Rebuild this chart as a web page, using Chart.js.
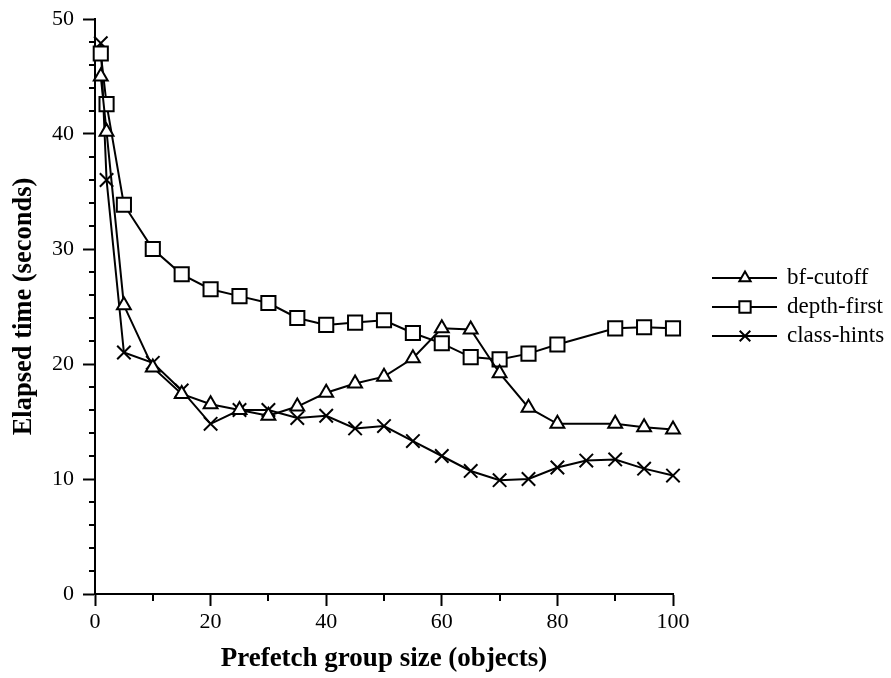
<!DOCTYPE html>
<html>
<head>
<meta charset="utf-8">
<script src="https://cdn.jsdelivr.net/npm/chart.js@4.4.1/dist/chart.umd.min.js"></script>
<style>
  html, body { margin: 0; padding: 0; background: #fff; }
  #wrap { width: 891px; height: 678px; position: relative; }
</style>
</head>
<body>
<div id="wrap"><canvas id="c" width="891" height="678"></canvas></div>
<script>
// ---- data ----
const seriesNames = ['bf-cutoff', 'depth-first', 'class-hints'];

const bfCutoffX = [1, 2, 5, 10, 15, 20, 25, 30, 35, 40, 45, 50, 55, 60, 65, 70, 75, 80, 90, 95, 100];
const bfCutoffY = [45.0, 40.2, 25.1, 19.7, 17.4, 16.5, 16.0, 15.5, 16.3, 17.5, 18.3, 18.9, 20.5, 23.1, 23.0, 19.2, 16.2, 14.8, 14.8, 14.5, 14.3];

const depthFirstX = [1, 2, 5, 10, 15, 20, 25, 30, 35, 40, 45, 50, 55, 60, 65, 70, 75, 80, 90, 95, 100];
const depthFirstY = [47.0, 42.6, 33.85, 30.0, 27.8, 26.5, 25.9, 25.3, 24.0, 23.4, 23.6, 23.8, 22.7, 21.8, 20.6, 20.4, 20.9, 21.7, 23.1, 23.2, 23.1];

const classHintsX = [1, 2, 5, 10, 15, 20, 25, 30, 35, 40, 45, 50, 55, 60, 65, 70, 75, 80, 85, 90, 95, 100];
const classHintsY = [47.9, 36.0, 21.0, 20.1, 17.7, 14.8, 16.0, 16.0, 15.3, 15.5, 14.4, 14.6, 13.3, 12.0, 10.7, 9.9, 10.0, 11.0, 11.6, 11.7, 10.9, 10.3];

const xTickValues = [0, 20, 40, 60, 80, 100];
const yTickValues = [0, 10, 20, 30, 40, 50];
const xMinorTickValues = [10, 30, 50, 70, 90];
const yMinorTickValues = [2, 4, 6, 8, 12, 14, 16, 18, 22, 24, 26, 28, 32, 34, 36, 38, 42, 44, 46, 48];
const xAxisTitle = 'Prefetch group size (objects)';
const yAxisTitle = 'Elapsed time (seconds)';

// ---- build ----
function pts(xs, ys) { return xs.map((x, i) => ({ x: x, y: ys[i] })); }

const FONT = "'Liberation Serif', 'Times New Roman', serif";

const common = {
  borderColor: '#000',
  borderWidth: 2,
  pointBackgroundColor: '#fff',
  pointBorderColor: '#000',
  pointBorderWidth: 2,
  tension: 0,
  fill: false,
  clip: false
};

const datasets = [
  Object.assign({ label: seriesNames[0], data: pts(bfCutoffX, bfCutoffY), pointStyle: 'triangle', pointRadius: 8, legendRadius: 6.5 }, common),
  Object.assign({ label: seriesNames[1], data: pts(depthFirstX, depthFirstY), pointStyle: 'rect', pointRadius: 10, legendRadius: 8 }, common),
  Object.assign({ label: seriesNames[2], data: pts(classHintsX, classHintsY), pointStyle: 'crossRot', pointRadius: 9.5, legendRadius: 7.5 }, common)
];

// minor ticks plugin
const minorTicks = {
  id: 'minorTicks',
  afterDraw(chart) {
    const ctx = chart.ctx;
    const xs = chart.scales.x, ys = chart.scales.y;
    ctx.save();
    ctx.strokeStyle = '#000';
    ctx.lineWidth = 2;
    ctx.beginPath();
    xMinorTickValues.forEach(v => {
      const px = Math.round(xs.getPixelForValue(v));
      ctx.moveTo(px, ys.bottom);
      ctx.lineTo(px, ys.bottom + 7);
    });
    yMinorTickValues.forEach(v => {
      const py = Math.round(ys.getPixelForValue(v));
      ctx.moveTo(xs.left, py);
      ctx.lineTo(xs.left - 6, py);
    });
    ctx.stroke();
    ctx.restore();
  }
};

// custom legend plugin (line with marker in middle)
const lineLegend = {
  id: 'lineLegend',
  afterDraw(chart) {
    const ctx = chart.ctx;
    const rows = [278, 307, 336];
    ctx.save();
    chart.data.datasets.forEach((ds, i) => {
      const y = rows[i];
      ctx.strokeStyle = '#000';
      ctx.lineWidth = 2;
      ctx.beginPath();
      ctx.moveTo(712, y);
      ctx.lineTo(777, y);
      ctx.stroke();
      ctx.fillStyle = '#fff';
      ctx.strokeStyle = '#000';
      ctx.lineWidth = 2;
      Chart.helpers.drawPoint(ctx, { pointStyle: ds.pointStyle, radius: ds.legendRadius, borderWidth: 2, rotation: 0 }, 745, y);
      ctx.fillStyle = '#000';
      ctx.font = "23px " + FONT;
      ctx.textBaseline = 'middle';
      ctx.textAlign = 'left';
      ctx.fillText(ds.label, 787, y);
    });
    ctx.restore();
  }
};

new Chart(document.getElementById('c'), {
  type: 'line',
  data: { datasets: datasets },
  plugins: [minorTicks, lineLegend],
  options: {
    responsive: false,
    animation: false,
    devicePixelRatio: 1,
    layout: { padding: { left: 0, right: 218, top: 19, bottom: 0 } },
    plugins: { legend: { display: false }, tooltip: { enabled: false } },
    scales: {
      x: {
        type: 'linear',
        min: 0, max: 100,
        afterBuildTicks(s) { s.ticks = xTickValues.map(v => ({ value: v })); },
        afterFit(s) { s.height = 84; },
        border: { display: true, color: '#000', width: 2 },
        grid: { display: true, drawOnChartArea: false, drawTicks: true, tickLength: 12, tickWidth: 2, tickColor: '#000' },
        ticks: { color: '#000', font: { family: FONT, size: 22 }, padding: 3, maxRotation: 0 },
        title: { display: true, text: xAxisTitle, color: '#000', font: { family: FONT, size: 27, weight: 'bold' }, padding: { top: 2, bottom: 3 } }
      },
      y: {
        type: 'linear',
        min: 0, max: 50,
        afterBuildTicks(s) { s.ticks = yTickValues.map(v => ({ value: v })); },
        afterFit(s) { s.width = 95; s.paddingTop = 0; },
        border: { display: true, color: '#000', width: 2 },
        grid: { display: true, drawOnChartArea: false, drawTicks: true, tickLength: 12, tickWidth: 2, tickColor: '#000' },
        ticks: { color: '#000', font: { family: FONT, size: 22 }, padding: 9 },
        title: { display: true, text: yAxisTitle, color: '#000', font: { family: FONT, size: 26.5, weight: 'bold' }, padding: { top: 8, bottom: 2 } }
      }
    }
  }
});
</script>
</body>
</html>
